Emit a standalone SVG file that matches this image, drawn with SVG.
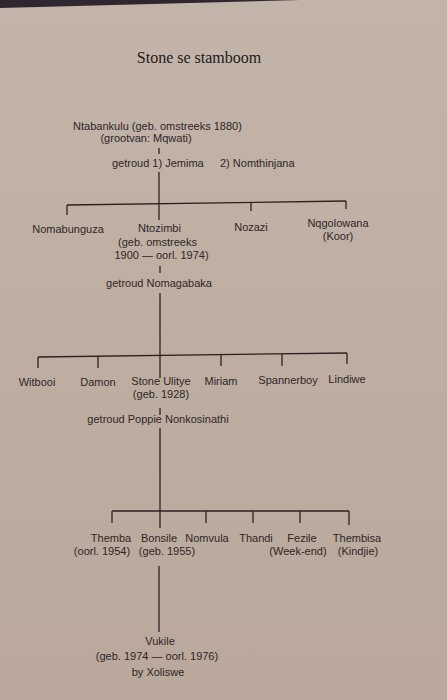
<svg xmlns="http://www.w3.org/2000/svg" width="447" height="700" viewBox="0 0 447 700">
<defs>
<linearGradient id="paper" x1="0" y1="0" x2="0" y2="1">
<stop offset="0" stop-color="#c3b4a9"/>
<stop offset="1" stop-color="#b9a89b"/>
</linearGradient>
</defs>
<style>
text{font-family:"Liberation Sans",Arial,sans-serif;font-size:11px;fill:#2e2626;text-anchor:middle}
.title{font-family:"Liberation Serif","Times New Roman",serif;font-size:16px;fill:#1f1a1a}
.ln{stroke:#2a2222;stroke-width:1.3;fill:none}
</style>
<rect width="447" height="700" fill="url(#paper)"/>
<polygon points="0,0 300,0 0,8" fill="#2f2630"/>
<text class="title" x="199" y="63">Stone se stamboom</text>
<g id="connectors" class="ln">
<path d="M159,148V154"/>
<path d="M159,172V220"/>
<path d="M67,205L346,201"/>
<path d="M67,205V215M251,203V211M346,201V209"/>
<path d="M160,266V273"/>
<path d="M160,293V378"/>
<path d="M38,357L347,353"/>
<path d="M38,357V368M98,356V368M221,355V366M282,354V366M347,353V364"/>
<path d="M160,408V415"/>
<path d="M160,428V528"/>
<path d="M112,511H349"/>
<path d="M112,511V523M206,511V523M253,511V523M300,511V523M349,511V525"/>
<path d="M159,566V632"/>
</g>
<g id="ntabankulu">
<text x="157.5" y="130">Ntabankulu (geb. omstreeks 1880)</text>
<text x="146" y="142">(grootvan: Mqwati)</text>
<text x="112" y="167" style="text-anchor:start">getroud 1) Jemima<tspan x="220">2) Nomthinjana</tspan></text>
</g>
<g id="nomabunguza"><text x="68" y="233">Nomabunguza</text></g>
<g id="ntozimbi">
<text x="159.5" y="232">Ntozimbi</text>
<text x="157.5" y="246">(geb. omstreeks</text>
<text x="161.5" y="259">1900 — oorl. 1974)</text>
<text x="159" y="287">getroud Nomagabaka</text>
</g>
<g id="nozazi"><text x="251" y="231">Nozazi</text></g>
<g id="nqgolowana">
<text x="338" y="227">Nqgolowana</text>
<text x="338" y="240">(Koor)</text>
</g>
<g id="witbooi"><text x="37" y="386">Witbooi</text></g>
<g id="damon"><text x="98" y="386">Damon</text></g>
<g id="stone">
<text x="161" y="385">Stone Ulitye</text>
<text x="161" y="398">(geb. 1928)</text>
<text x="158" y="423">getroud Poppie Nonkosinathi</text>
</g>
<g id="miriam"><text x="221" y="385">Miriam</text></g>
<g id="spannerboy"><text x="288" y="384">Spannerboy</text></g>
<g id="lindiwe"><text x="347" y="383">Lindiwe</text></g>
<g id="themba">
<text x="111" y="542">Themba</text>
<text x="102" y="555">(oorl. 1954)</text>
</g>
<g id="bonsile">
<text x="159" y="542">Bonsile</text>
<text x="167" y="555">(geb. 1955)</text>
</g>
<g id="nomvula"><text x="207" y="542">Nomvula</text></g>
<g id="thandi"><text x="256" y="542">Thandi</text></g>
<g id="fezile">
<text x="302" y="542">Fezile</text>
<text x="298" y="555">(Week-end)</text>
</g>
<g id="thembisa">
<text x="357" y="542">Thembisa</text>
<text x="358" y="555">(Kindjie)</text>
</g>
<g id="vukile">
<text x="160" y="645">Vukile</text>
<text x="157" y="660">(geb. 1974 — oorl. 1976)</text>
<text x="158" y="676">by Xoliswe</text>
</g>
</svg>
